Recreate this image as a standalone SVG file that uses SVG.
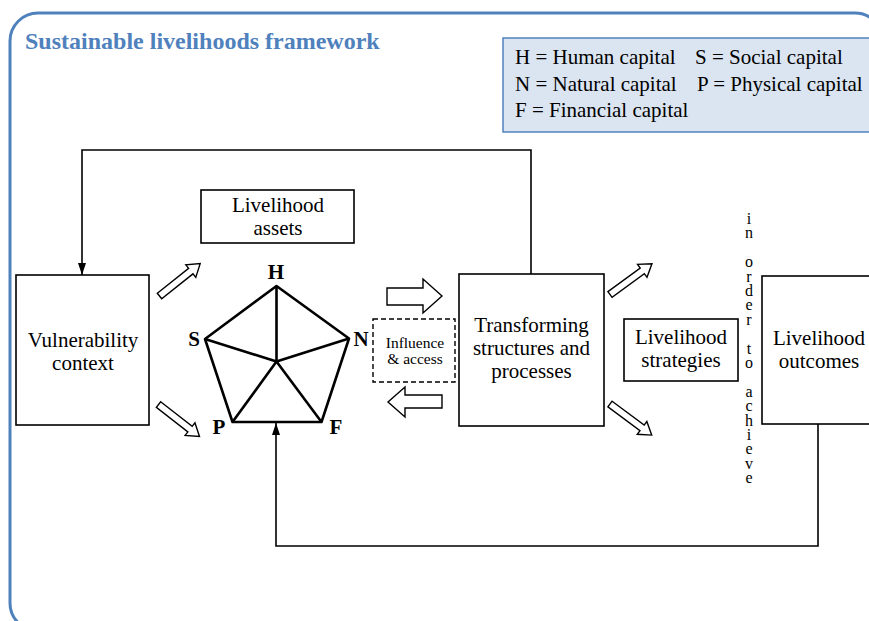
<svg xmlns="http://www.w3.org/2000/svg" xmlns:xlink="http://www.w3.org/1999/xlink" width="869" height="621" viewBox="0 0 869 621">
<style>
  .frame{fill:none;stroke:#4f81bd;stroke-width:3}
  .title{font-family:"Liberation Serif",serif;font-weight:bold;font-size:24px;fill:#4f81bd}
  .legend{fill:#dbe5f1;stroke:#4f81bd;stroke-width:1.5}
  .lt{font-family:"Liberation Serif",serif;font-size:21px;fill:#000}
  .box{fill:#fff;stroke:#000;stroke-width:1.6}
  .dash{fill:#fff;stroke:#000;stroke-width:1.4;stroke-dasharray:5,3}
  .t{font-family:"Liberation Serif",serif;font-size:21px;fill:#000;text-anchor:middle}
  .ts{font-family:"Liberation Serif",serif;font-size:15.5px;fill:#000;text-anchor:middle}
  .vl{font-family:"Liberation Serif",serif;font-size:16px;fill:#000;writing-mode:vertical-rl;text-orientation:upright;letter-spacing:-2.6px}
  .cap{font-family:"Liberation Serif",serif;font-weight:bold;font-size:21px;fill:#000;text-anchor:middle}
  .pent{fill:none;stroke:#000;stroke-width:2.6;stroke-linejoin:round}
  .hollow{fill:#fff;stroke:#000;stroke-width:1.4;stroke-linejoin:miter}
  .conn{fill:none;stroke:#000;stroke-width:1.6}
</style>
<defs>
  <marker id="ah" viewBox="0 0 12 8" refX="12" refY="4" markerWidth="12" markerHeight="8" markerUnits="userSpaceOnUse" orient="auto">
    <path d="M0,0 L12,4 L0,8 Z" fill="#000"/>
  </marker>
  <path id="diag" d="M0,-3.5 L40,-3.5 L40,-8 L52,0 L40,8 L40,3.5 L0,3.5 Z"/>
</defs>

<rect class="frame" x="10" y="13" width="873" height="618" rx="28" ry="28"/>
<text class="title" x="25" y="49">Sustainable livelihoods framework</text>

<g id="legend">
  <rect class="legend" x="503" y="38" width="380" height="94"/>
  <text class="lt" x="515" y="64">H = Human capital</text>
  <text class="lt" x="695" y="64">S = Social capital</text>
  <text class="lt" x="515" y="91">N = Natural capital</text>
  <text class="lt" x="697" y="91">P = Physical capital</text>
  <text class="lt" x="515" y="117">F = Financial capital</text>
</g>

<g id="connectors">
  <path class="conn" d="M531,274 V150 H82 V275" marker-end="url(#ah)"/>
  <path class="conn" d="M818,424 V546 H276 V423" marker-end="url(#ah)"/>
  <use xlink:href="#diag" class="hollow" transform="translate(159.5,296) rotate(-38.5)"/>
  <use xlink:href="#diag" class="hollow" transform="translate(158.5,404.5) rotate(38)"/>
  <use xlink:href="#diag" class="hollow" transform="translate(610,294.5) rotate(-36.2)"/>
  <use xlink:href="#diag" class="hollow" transform="translate(610,404) rotate(36.7)"/>
  <path class="hollow" d="M387,288 H423 V279 L442,296 L423,313 V305 H387 Z"/>
  <path class="hollow" d="M442,395 H405 V387 L388,402 L405,417 V408 H442 Z"/>
</g>

<g id="vulnerability">
  <rect class="box" x="16" y="275" width="133" height="150"/>
  <text class="t" x="83" y="347">Vulnerability</text>
  <text class="t" x="83" y="370">context</text>
</g>

<g id="assets">
  <rect class="box" x="201" y="190" width="153" height="53"/>
  <text class="t" x="278" y="212">Livelihood</text>
  <text class="t" x="278" y="235">assets</text>
</g>

<g id="pentagon">
  <polygon class="pent" points="276.5,286 349,338.5 321.5,422 232.5,422 205,339"/>
  <path class="pent" d="M276.5,361.5 L276.5,286 M276.5,361.5 L349,338.5 M276.5,361.5 L321.5,422 M276.5,361.5 L232.5,422 M276.5,361.5 L205,339"/>
  <text class="cap" x="276" y="279">H</text>
  <text class="cap" x="194" y="346">S</text>
  <text class="cap" x="361" y="346">N</text>
  <text class="cap" x="219" y="434">P</text>
  <text class="cap" x="336" y="434">F</text>
</g>

<g id="influence">
  <rect class="dash" x="373" y="319" width="82" height="63"/>
  <text class="ts" x="415" y="348">Influence</text>
  <text class="ts" x="415" y="364">&amp; access</text>
</g>

<g id="transforming">
  <rect class="box" x="459" y="274" width="145" height="152"/>
  <text class="t" x="531.5" y="332">Transforming</text>
  <text class="t" x="531.5" y="355">structures and</text>
  <text class="t" x="531.5" y="378">processes</text>
</g>

<g id="strategies">
  <rect class="box" x="624" y="319" width="114" height="62"/>
  <text class="t" x="681" y="344">Livelihood</text>
  <text class="t" x="681" y="367">strategies</text>
</g>

<g id="in-order-to-achieve">
  <text class="vl" x="749" y="210">in order to achieve</text>
</g>

<g id="outcomes">
  <rect class="box" x="762" y="276" width="130" height="148"/>
  <text class="t" x="819" y="345">Livelihood</text>
  <text class="t" x="819" y="368">outcomes</text>
</g>
</svg>
